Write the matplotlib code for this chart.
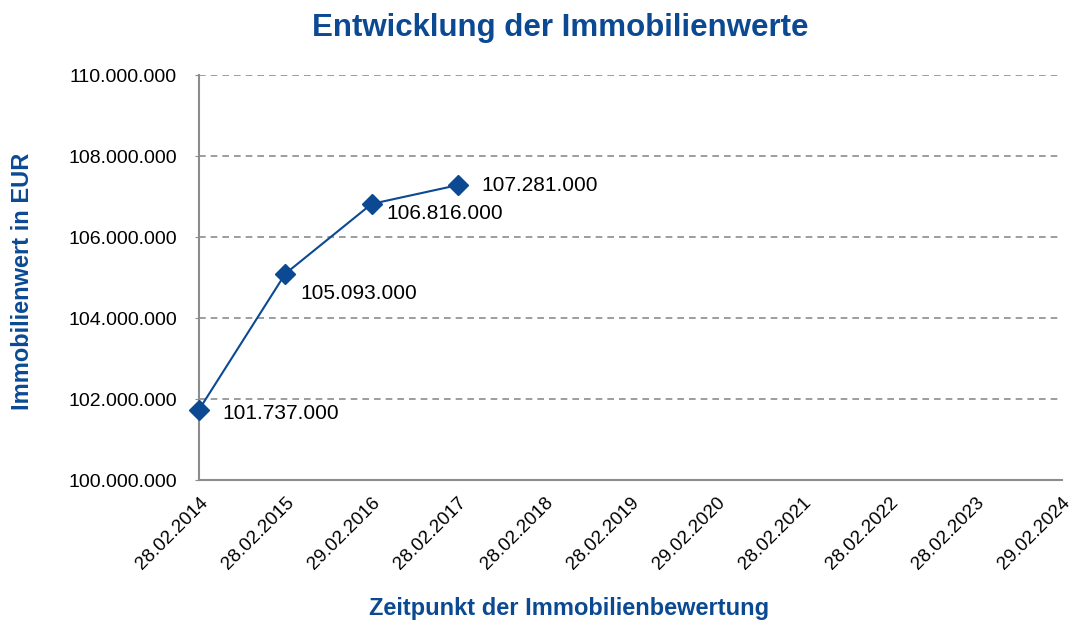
import matplotlib
matplotlib.use('Agg')
import matplotlib.pyplot as plt
from matplotlib.ticker import FuncFormatter

plt.rcParams['font.family'] = ['Liberation Sans', 'DejaVu Sans']

# data
dates = ["28.02.2014", "28.02.2015", "29.02.2016", "28.02.2017", "28.02.2018",
         "28.02.2019", "29.02.2020", "28.02.2021", "28.02.2022", "28.02.2023",
         "29.02.2024"]
values = [101737000, 105093000, 106816000, 107281000]
label_offsets = [(17, -3), (11, -14), (11, -7), (17, 0)]

blue = '#0b4a93'
grey = '#8c8c8c'

def de_fmt(v, pos=None):
    return f"{int(round(v)):,}".replace(",", ".")

fig = plt.figure(figsize=(10.73, 6.25), dpi=100)
ax = fig.add_axes([0.1855, 0.232, 0.804, 0.648])

x = list(range(len(values)))
ax.plot(x, values, color=blue, lw=1.5, marker='D', ms=10, mec=blue, mfc=blue, zorder=3,
        clip_on=False)
for xi, v, (dx, dy) in zip(x, values, label_offsets):
    ax.annotate(de_fmt(v), (xi, v), xytext=(dx, dy), textcoords='offset points',
                ha='left', va='center', fontsize=15, color='black')

ax.set_xlim(0, len(dates) - 1)
ax.set_ylim(100000000, 110000000)
ax.set_yticks(range(100000000, 110000001, 2000000))
ax.yaxis.set_major_formatter(FuncFormatter(de_fmt))
ax.set_xticks(range(len(dates)))
ax.set_xticklabels(dates, rotation=45, ha='right', rotation_mode='anchor', fontsize=13.5)
ax.tick_params(axis='y', labelsize=14, length=3, color=grey, pad=13)
ax.tick_params(axis='x', length=0, pad=10)

ax.grid(axis='y', color=grey, ls=(0, (4, 3)), lw=1.2)
ax.set_axisbelow(True)
for s in ['top', 'right']:
    ax.spines[s].set_visible(False)
for s in ['left', 'bottom']:
    ax.spines[s].set_color(grey)
    ax.spines[s].set_linewidth(1.5)

fig.text(0.522, 0.955, "Entwicklung der Immobilienwerte", ha='center', va='center',
         fontsize=22.5, fontweight='bold', color=blue)
fig.text(0.5305, 0.027, "Zeitpunkt der Immobilienbewertung", ha='center', va='center',
         fontsize=17, fontweight='bold', color=blue)
fig.text(0.021, 0.549, "Immobilienwert in EUR", ha='center', va='center', rotation=90,
         fontsize=17, fontweight='bold', color=blue)

fig.savefig('out.png', dpi=100)
